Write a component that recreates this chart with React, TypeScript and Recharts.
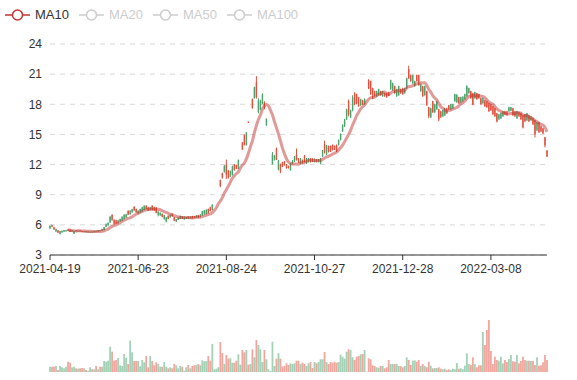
import { Bar, CartesianGrid, ComposedChart, Line, XAxis, YAxis } from 'recharts'

const opens = [
  5.65, 5.98, 5.75, 5.35, 5.45, 5.1, 5.25, 5.32, 5.35, 5.55,
  5.52, 5.34, 5.12, 5.46, 5.38, 5.44, 5.38, 5.3, 5.35, 5.25,
  5.24, 5.33, 5.28, 5.36, 5.33, 5.45, 5.4, 5.48, 5.8, 5.95,
  6.25, 7.0, 6.5, 6.45, 6.18, 6.35, 6.42, 6.6, 6.75, 7.4,
  7.05, 7.25, 7.8, 7.58, 7.15, 7.25, 7.35, 7.48, 7.9, 7.75,
  7.48, 7.9, 7.75, 7.7, 7.0, 6.95, 7.1, 6.6, 6.35, 6.9,
  6.75, 7.1, 6.75, 6.3, 6.5, 6.6, 6.85, 6.55, 6.6, 6.82,
  6.62, 6.88, 6.86, 6.7, 6.95, 6.78, 6.95, 7.05, 7.1, 7.58,
  7.75, 7.5, 8.8, 9.68, 10.6, 10.45, 11.13, 11.25, 12.0, 11.4,
  10.8, 11.0, 12.0, 11.95, 11.6, 13.7, 14.2, 14.95, 13.95, 16.25,
  17.85, 18.5, 18.6, 20.2, 17.2, 17.5, 18.1, 18.2, 15.95, 14.9,
  13.4, 12.06, 12.45, 13.6, 11.5, 12.05, 12.25, 12.3, 12.0, 11.85,
  11.45, 12.1, 12.3, 13.0, 12.6, 12.1, 12.44, 12.9, 12.1, 12.27,
  12.6, 12.58, 12.27, 12.5, 12.27, 12.1, 12.8, 14.0, 13.0, 13.85,
  13.85, 13.95, 13.85, 13.95, 13.95, 14.45, 15.3, 15.8, 16.5, 18.3,
  16.7, 17.4, 19.1, 19.0, 18.7, 17.9, 18.4, 18.0, 20.35, 20.4,
  20.3, 19.6, 19.3, 18.8, 18.9, 19.3, 18.8, 19.1, 19.1, 19.2,
  19.5, 19.4, 19.8, 18.8, 18.9, 19.5, 19.6, 19.1, 19.6, 21.5,
  20.9, 20.1, 19.8, 20.9, 20.9, 19.3, 19.8, 18.9, 19.3, 17.7,
  16.7, 18.3, 17.2, 17.5, 17.5, 17.3, 16.8, 16.9, 17.6, 17.9,
  17.5, 17.6, 18.3, 18.2, 18.7, 18.2, 18.3, 18.5, 18.8, 19.1,
  19.3, 19.1, 18.6, 19.1, 19.0, 18.6, 18.1, 18.4, 18.3, 18.1,
  18.0, 17.8, 17.6, 17.1, 16.5, 16.6, 16.8, 17.3, 17.3, 17.3,
  17.35, 17.6, 17.3, 16.6, 17.2, 17.1, 16.9, 17.0, 16.4, 16.9,
  16.4, 16.6, 16.4, 15.4, 16.2, 15.8, 15.6, 14.7, 13.4,
]

const closes = [
  5.9, 5.82, 5.55, 5.58, 5.22, 5.38, 5.4, 5.48, 5.46, 5.42,
  5.3, 5.48, 5.38, 5.36, 5.42, 5.36, 5.33, 5.36, 5.3, 5.34,
  5.32, 5.28, 5.36, 5.32, 5.45, 5.4, 5.58, 5.78, 6.1, 6.2,
  6.8, 6.5, 6.1, 6.1, 6.45, 6.58, 6.8, 7.0, 7.05, 7.02,
  7.4, 7.55, 7.45, 7.25, 7.4, 7.58, 7.75, 7.9, 7.58, 7.42,
  7.75, 7.5, 7.45, 7.2, 7.3, 7.2, 6.8, 6.95, 6.75, 6.6,
  7.0, 6.85, 6.42, 6.55, 6.75, 6.9, 6.62, 6.8, 6.75, 6.62,
  6.82, 6.65, 6.7, 6.92, 6.7, 7.02, 7.35, 7.42, 7.5, 7.18,
  7.38, 8.0, 8.8, 9.68, 10.6, 9.85, 10.7, 11.85, 11.0, 10.7,
  11.35, 11.8, 11.45, 11.6, 12.45, 13.7, 13.5, 13.95, 15.2, 16.2,
  17.85, 17.6, 19.7, 18.7, 18.4, 18.3, 18.95, 17.6, 16.55, 14.9,
  13.4, 13.0, 12.9, 12.5, 12.4, 11.3, 11.8, 11.95, 11.65, 11.65,
  12.1, 12.4, 12.8, 12.45, 12.2, 12.6, 12.17, 12.27, 12.6, 12.6,
  12.27, 12.3, 12.54, 12.27, 12.5, 12.6, 13.4, 13.2, 13.9, 13.28,
  13.3, 13.45, 13.5, 13.3, 14.45, 15.05, 15.95, 16.5, 17.5, 17.0,
  17.4, 18.7, 18.0, 18.1, 17.8, 18.5, 18.0, 18.5, 20.35, 19.6,
  19.0, 18.6, 18.8, 19.3, 19.5, 18.9, 19.3, 18.8, 18.7, 18.85,
  20.4, 20.1, 19.1, 19.5, 19.8, 19.1, 19.0, 19.6, 20.6, 20.6,
  20.3, 20.9, 20.3, 20.3, 19.9, 20.0, 18.8, 19.8, 17.9, 16.8,
  17.6, 17.2, 18.0, 18.3, 16.5, 16.7, 17.4, 17.6, 17.1, 17.5,
  18.0, 18.0, 19.0, 18.95, 18.1, 18.7, 18.75, 19.0, 19.8, 19.6,
  18.6, 17.95, 19.2, 18.5, 18.6, 18.0, 18.6, 17.8, 17.7, 17.3,
  17.4, 17.0, 16.8, 16.3, 17.0, 17.1, 17.3, 17.0, 16.95, 17.7,
  17.7, 16.9, 16.8, 17.3, 16.8, 16.5, 15.7, 16.3, 17.1, 16.3,
  16.8, 16.0, 15.0, 16.2, 15.2, 15.3, 15.1, 13.9, 12.8,
]

const lows = [
  5.6, 5.78, 5.5, 5.3, 5.18, 5.05, 5.22, 5.3, 5.33, 5.38,
  5.28, 5.32, 5.1, 5.33, 5.35, 5.34, 5.3, 5.28, 5.27, 5.22,
  5.2, 5.25, 5.26, 5.3, 5.31, 5.38, 5.38, 5.45, 5.78, 5.92,
  6.2, 6.4, 6.05, 6.05, 6.12, 6.3, 6.38, 6.55, 6.7, 6.98,
  7.0, 7.2, 7.4, 7.2, 7.1, 7.2, 7.3, 7.45, 7.52, 7.38,
  7.45, 7.45, 7.4, 7.15, 6.85, 6.9, 6.75, 6.5, 6.25, 6.55,
  6.7, 6.8, 6.38, 6.28, 6.48, 6.58, 6.6, 6.52, 6.58, 6.6,
  6.6, 6.62, 6.68, 6.68, 6.68, 6.75, 6.92, 7.02, 7.05, 7.12,
  7.33, 7.45, 8.8, 9.68, 10.6, 9.75, 10.6, 11.2, 10.57, 10.6,
  10.75, 10.9, 11.4, 11.55, 11.57, 13.7, 13.45, 13.9, 13.9, 16.15,
  17.85, 17.57, 18.57, 18.57, 17.1, 17.4, 18.0, 17.5, 15.85, 14.9,
  13.4, 12.0, 12.4, 12.45, 11.43, 11.15, 11.75, 11.9, 11.6, 11.6,
  11.4, 12.05, 12.25, 12.4, 12.15, 12.05, 12.1, 12.2, 12.05, 12.2,
  12.2, 12.25, 12.22, 12.22, 12.22, 12.05, 12.75, 13.1, 12.94, 13.2,
  13.25, 13.4, 13.45, 13.25, 13.9, 14.4, 15.25, 15.75, 16.45, 16.8,
  16.63, 17.3, 17.9, 18.0, 17.75, 17.85, 17.95, 17.95, 20.35, 19.5,
  18.95, 18.55, 18.75, 18.75, 18.85, 18.85, 18.75, 18.75, 18.65, 18.8,
  19.45, 19.35, 19.05, 18.75, 18.85, 19.05, 18.95, 19.05, 19.55, 20.5,
  20.25, 20.05, 19.75, 20.25, 19.85, 19.25, 18.75, 18.85, 17.85, 16.6,
  16.65, 17.15, 17.15, 17.45, 16.3, 16.65, 16.75, 16.85, 17.05, 17.45,
  17.45, 17.55, 18.25, 18.15, 18.05, 18.15, 18.25, 18.45, 18.75, 19.05,
  18.55, 17.9, 18.55, 18.45, 18.55, 17.95, 18.05, 17.75, 17.65, 17.25,
  17.35, 16.95, 16.75, 16.2, 16.45, 16.55, 16.75, 16.95, 16.9, 17.25,
  17.3, 16.85, 16.75, 16.55, 16.75, 16.45, 15.6, 16.25, 16.35, 16.25,
  16.35, 15.95, 14.7, 15.35, 15.15, 15.25, 15.05, 13.7, 12.75,
]

const highs = [
  5.95, 6.02, 5.78, 5.62, 5.48, 5.4, 5.44, 5.5, 5.5, 5.58,
  5.56, 5.5, 5.4, 5.48, 5.45, 5.47, 5.4, 5.38, 5.38, 5.36,
  5.34, 5.35, 5.38, 5.38, 5.48, 5.5, 5.62, 5.8, 6.12, 6.25,
  6.9, 7.05, 6.55, 6.5, 6.5, 6.62, 6.85, 7.05, 7.1, 7.45,
  7.45, 7.6, 7.85, 7.62, 7.45, 7.62, 7.8, 7.95, 7.95, 7.8,
  7.8, 7.95, 7.8, 7.78, 7.4, 7.25, 7.12, 7.0, 6.8, 6.95,
  7.05, 7.12, 6.78, 6.58, 6.78, 6.92, 6.88, 6.82, 6.78, 6.85,
  6.85, 6.9, 6.9, 6.95, 6.98, 7.05, 7.4, 7.48, 7.55, 7.62,
  7.8, 8.05, 8.8, 9.68, 10.6, 10.5, 11.2, 11.95, 12.5, 11.45,
  11.4, 11.9, 12.05, 12.0, 12.5, 13.7, 14.23, 15.0, 15.23, 16.3,
  17.85, 18.57, 19.75, 20.8, 18.6, 18.45, 19.1, 18.3, 16.6, 14.9,
  13.4, 13.25, 12.95, 13.7, 12.45, 12.1, 12.28, 12.35, 12.05, 11.9,
  12.15, 12.45, 12.85, 13.6, 12.65, 12.65, 12.5, 12.95, 12.65, 12.65,
  12.65, 12.62, 12.6, 12.55, 12.55, 12.65, 13.45, 14.38, 13.95, 13.9,
  13.9, 14.0, 13.9, 14.0, 14.5, 15.1, 16.0, 16.55, 17.55, 18.48,
  17.47, 18.9, 19.2, 19.05, 18.75, 18.55, 18.45, 18.6, 20.35, 20.5,
  20.35, 19.65, 19.35, 19.35, 19.55, 19.35, 19.35, 19.15, 19.15, 19.25,
  20.45, 20.15, 19.85, 19.55, 19.85, 19.55, 19.65, 19.65, 20.65, 21.85,
  20.95, 20.95, 20.35, 20.95, 20.95, 20.05, 19.85, 19.85, 19.35, 17.75,
  17.65, 18.35, 18.05, 18.35, 17.55, 17.35, 17.45, 17.65, 17.65, 17.95,
  18.05, 18.05, 19.05, 19.0, 18.75, 18.75, 18.8, 19.05, 19.9, 19.65,
  19.35, 19.15, 19.25, 19.15, 19.05, 18.65, 18.65, 18.45, 18.35, 18.15,
  18.05, 17.85, 17.65, 17.15, 17.05, 17.15, 17.35, 17.35, 17.35, 17.75,
  17.75, 17.65, 17.35, 17.35, 17.25, 17.15, 16.95, 17.05, 17.15, 16.95,
  16.85, 16.65, 16.45, 16.25, 16.25, 15.85, 15.65, 14.75, 13.45,
]

const volumes = [
  5.3, 5.3, 5.3, 6.0, 2.0, 6.0, 4.7, 3.7, 5.3, 10.3,
  9.3, 4.7, 5.3, 3.7, 3.3, 3.7, 4.0, 3.7, 2.0, 1.3,
  4.7, 2.7, 2.7, 6.0, 2.7, 5.3, 5.3, 11.0, 10.3, 11.3,
  25.3, 20.3, 11.3, 12.0, 14.0, 6.7, 6.0, 18.0, 14.3, 8.0,
  31.3, 19.7, 11.0, 11.0, 11.0, 5.7, 12.0, 9.7, 16.0, 4.7,
  16.0, 11.0, 6.7, 9.7, 8.0, 5.3, 5.3, 10.0, 5.3, 3.7,
  4.7, 3.7, 8.0, 6.7, 3.7, 6.0, 5.3, 1.3, 4.7, 7.0,
  3.7, 6.0, 6.7, 7.0, 8.0, 6.7, 11.7, 10.7, 11.0, 16.0,
  11.3, 28.0, 2.7, 3.3, 4.7, 30.0, 19.0, 8.0, 17.0, 13.3,
  13.7, 9.3, 9.3, 11.3, 17.7, 7.3, 22.0, 19.7, 22.0, 7.3,
  8.0, 22.7, 14.7, 32.0, 27.0, 22.7, 10.0, 22.0, 12.7, 2.7,
  1.0, 30.3, 6.0, 13.3, 18.7, 13.3, 5.3, 6.0, 8.7, 7.0,
  8.7, 8.0, 8.7, 11.3, 11.3, 8.0, 9.3, 8.0, 6.0, 8.7,
  10.0, 4.0, 10.0, 8.7, 10.0, 12.7, 12.7, 20.0, 10.0, 8.0,
  10.0, 9.3, 10.3, 9.3, 10.0, 17.3, 15.3, 13.3, 20.3, 22.7,
  22.0, 14.7, 12.0, 15.3, 16.0, 17.7, 18.0, 22.0, 0.3, 13.7,
  12.7, 6.7, 6.0, 4.7, 4.3, 6.0, 6.0, 3.7, 4.7, 12.0,
  8.0, 8.0, 8.0, 8.0, 6.0, 6.0, 4.7, 6.0, 14.7, 12.0,
  7.0, 11.3, 11.7, 10.3, 12.0, 6.0, 8.0, 6.0, 4.7, 10.3,
  6.3, 3.7, 4.0, 4.0, 4.7, 3.3, 2.7, 3.3, 2.0, 2.7,
  2.0, 3.3, 2.7, 9.0, 3.3, 3.7, 2.7, 6.3, 18.7, 8.0,
  7.0, 14.7, 8.0, 4.7, 6.7, 6.7, 40.0, 27.0, 42.0, 52.0,
  21.0, 8.0, 15.3, 12.0, 11.3, 15.3, 8.7, 12.0, 10.0, 13.0,
  17.0, 10.7, 10.3, 17.0, 8.7, 11.0, 15.3, 12.0, 11.3, 11.3,
  11.0, 11.0, 7.0, 14.7, 6.3, 6.7, 9.7, 17.0, 12.0,
]

const dateLabels = ['2021-04-19', '2021-06-23', '2021-08-24', '2021-10-27', '2021-12-28', '2022-03-08']
const labelStep = 44
const priceTicks = [3, 6, 9, 12, 15, 18, 21, 24]
const legendNames = ['MA10', 'MA20', 'MA50', 'MA100']

const UP = '#4ba46d'
const DOWN = '#e2503f'
const MA_COLOR = '#c23531'
const AXIS = '#333'
const FONT = '"Liberation Sans", Arial, sans-serif'

const lastIndex = closes.length - 1

const data = closes.map((close, i) => {
  let ma10: number | null = null
  if (i >= 9) {
    let sum = 0
    for (let j = i - 9; j <= i; j++) sum += closes[j]
    ma10 = sum / 10
  }
  return {
    idx: i,
    open: opens[i],
    close,
    low: lows[i],
    high: highs[i],
    range: [lows[i], highs[i]],
    volume: volumes[i],
    ma10,
  }
})

function Candle(props: any) {
  const { x, y, width, height, payload } = props
  const { open, close, low, high } = payload
  if (high === low) return null
  const cx = x + width / 2
  const top = Math.min(y, y + height)
  const h = Math.abs(height)
  const perUnit = h / (high - low)
  const yOf = (v: number) => top + (high - v) * perUnit
  const color = close >= open ? UP : DOWN
  const bodyTop = yOf(Math.max(open, close))
  const bodyBottom = yOf(Math.min(open, close))
  return (
    <g>
      <line x1={cx} x2={cx} y1={top} y2={top + h} stroke={color} strokeWidth={1} />
      <rect x={cx - 0.7} y={bodyTop} width={1.4} height={Math.max(bodyBottom - bodyTop, 1)} fill={color} />
    </g>
  )
}

function VolumeBar(props: any) {
  const { x, y, width, height, payload } = props
  const color = payload.close >= payload.open ? UP : DOWN
  const cx = x + width / 2
  return <rect x={cx - 0.9} y={y} width={1.8} height={Math.max(height, 0)} fill={color} fillOpacity={0.5} />
}

function LegendBar() {
  return (
    <div
      style={{
        position: 'absolute',
        left: 5,
        top: 6,
        display: 'flex',
        gap: 10,
        fontFamily: FONT,
        fontSize: 13,
        lineHeight: '18px',
      }}
    >
      {legendNames.map((name, i) => {
        const color = i === 0 ? MA_COLOR : '#ccc'
        return (
          <div key={name} style={{ display: 'flex', alignItems: 'center', gap: 5, color: i === 0 ? '#333' : '#ccc' }}>
            <svg width={25} height={14}>
              <line x1={0} x2={25} y1={7} y2={7} stroke={color} strokeWidth={1.5} />
              <circle cx={12.5} cy={7} r={5} fill="#fff" stroke={color} strokeWidth={1.5} />
            </svg>
            <span>{name}</span>
          </div>
        )
      })}
    </div>
  )
}

export default function App() {
  return (
    <div style={{ position: 'absolute', left: 0, top: 0, width: 577, height: 380, background: '#fff' }}>
      <LegendBar />
      <div style={{ position: 'absolute', left: 0, top: 0 }}>
        <ComposedChart width={577} height={290} data={data} margin={{ top: 44, right: 30, bottom: 5, left: 0 }}>
          <CartesianGrid vertical={false} stroke="#d9d9d9" strokeDasharray="5 5" />
          <XAxis
            dataKey="idx"
            type="number"
            domain={[0, lastIndex]}
            ticks={dateLabels.map((_, k) => k * labelStep)}
            tickFormatter={(v: number) => dateLabels[Math.round(v / labelStep)]}
            height={30}
            tickSize={5}
            tickMargin={4}
            axisLine={{ stroke: AXIS }}
            tickLine={{ stroke: AXIS }}
            tick={{ fill: AXIS, fontSize: 12, fontFamily: FONT }}
          />
          <YAxis
            domain={[3, 24]}
            ticks={priceTicks}
            width={50}
            axisLine={false}
            tickLine={false}
            tickSize={0}
            tickMargin={8}
            tick={{ fill: AXIS, fontSize: 12, fontFamily: FONT }}
          />
          <Bar dataKey="range" shape={Candle} barSize={2} isAnimationActive={false} />
          <Line
            dataKey="ma10"
            type="monotone"
            stroke={MA_COLOR}
            strokeOpacity={0.5}
            strokeWidth={3}
            dot={false}
            activeDot={false}
            isAnimationActive={false}
          />
        </ComposedChart>
      </div>
      <div style={{ position: 'absolute', left: 0, top: 300 }}>
        <ComposedChart width={577} height={80} data={data} margin={{ top: 2, right: 30, bottom: 8, left: 50 }}>
          <XAxis
            dataKey="idx"
            type="number"
            domain={[0, lastIndex]}
            height={0}
            tick={false}
            tickLine={false}
            axisLine={{ stroke: AXIS }}
          />
          <YAxis hide domain={[0, 70]} />
          <Bar dataKey="volume" shape={VolumeBar} barSize={2} isAnimationActive={false} />
        </ComposedChart>
      </div>
    </div>
  )
}
